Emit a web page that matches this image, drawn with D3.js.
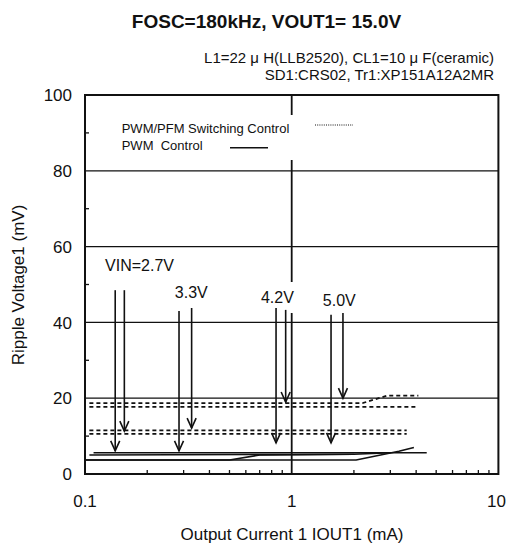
<!DOCTYPE html>
<html>
<head>
<meta charset="utf-8">
<script src="https://cdn.jsdelivr.net/npm/d3@7"></script>
<style>
  html, body { margin: 0; padding: 0; background: #fff; }
  svg { display: block; font-family: "Liberation Sans", Arial, sans-serif; }
  text { fill: #111; }
</style>
</head>
<body>
<svg id="chart" width="509" height="544"></svg>
<script>
// ---- data ----
const titleText = "FOSC=180kHz, VOUT1= 15.0V";
const subtitleLines = ["L1=22 \u03BC H(LLB2520), CL1=10 \u03BC F(ceramic)", "SD1:CRS02, Tr1:XP151A12A2MR"];
const xLabel = "Output Current 1 IOUT1 (mA)";
const yLabel = "Ripple Voltage1 (mV)";
const xTicks = [0.1, 1, 10];
const xTickLabels = ["0.1", "1", "10"];
const yTicks = [0, 20, 40, 60, 80, 100];
const yMinorTicks = [10, 30, 50, 70, 90];
const xGrid = [1];
const yGrid = [20, 40, 60, 80];

// PWM/PFM switching control (dashed), [IOUT1 mA, ripple mV]
const pfm27 = [[0.105, 10.6], [3.6, 10.6]];
const pfm33 = [[0.105, 11.5], [3.6, 11.5]];
const pfm42 = [[0.105, 17.7], [4.1, 17.7]];
const pfm50 = [[0.105, 18.7], [2.2, 18.7], [2.9, 20.7], [4.1, 20.7]];

// PWM control (solid)
const pwm27 = [[0.11, 5.6], [4.5, 5.6]];
const pwm33 = [[0.105, 5.0], [2.0, 5.2], [3.0, 5.6]];
const pwm42 = [[0.1, 3.7], [0.5, 3.7], [0.7, 5.0], [2.0, 5.2]];
const pwm50 = [[0.1, 3.7], [2.05, 3.7], [3.3, 6.0], [3.9, 7.0]];

// VIN annotations
const vinLabels = ["VIN=2.7V", "3.3V", "4.2V", "5.0V"];
const vinLabelX = [0.125, 0.272, 0.71, 1.415];
const vinLabelY = [55.1, 48.0, 46.7, 45.9];
const arrowPwmX = [0.14, 0.285, 0.84, 1.55];
const arrowPwmFrom = [48.5, 43.0, 43.8, 42.0];
const arrowPwmTo = [6.1, 6.1, 8.2, 8.2];
const arrowPfmX = [0.155, 0.328, 0.935, 1.77];
const arrowPfmFrom = [48.5, 43.8, 43.3, 42.5];
const arrowPfmTo = [11.3, 12.1, 19.0, 20.0];

const legendLabels = ["PWM/PFM Switching Control", "PWM  Control"];

// ---- layout ----
const svg = d3.select("#chart");
const L = 85, R = 498.4, T = 95, B = 474;
const x = d3.scaleLog().domain([0.1, 10]).range([L, R]);
const y = d3.scaleLinear().domain([0, 100]).range([B, T]);

// title & subtitles
svg.append("text").attr("x", 266.5).attr("y", 28).attr("text-anchor", "middle")
  .attr("font-size", 19).attr("font-weight", "bold").text(titleText);
svg.selectAll("text.sub").data(subtitleLines).join("text").attr("class", "sub")
  .attr("x", 494).attr("y", (d, i) => 62.5 + i * 17.5).attr("text-anchor", "end")
  .attr("font-size", 15).text(d => d);

// grid
svg.append("g").selectAll("line").data(yGrid).join("line")
  .attr("x1", L).attr("x2", R).attr("y1", d => y(d)).attr("y2", d => y(d))
  .attr("stroke", "#111").attr("stroke-width", 1.3);
svg.append("g").selectAll("line").data(xGrid).join("line")
  .attr("x1", d => x(d)).attr("x2", d => x(d)).attr("y1", T).attr("y2", B)
  .attr("stroke", "#111").attr("stroke-width", 1.8);

// minor ticks
const xMinor = [];
[0.1, 1].forEach(dec => { for (let k = 2; k <= 9; k++) xMinor.push(dec * k); });
svg.append("g").selectAll("line").data(xMinor).join("line")
  .attr("x1", d => x(d)).attr("x2", d => x(d)).attr("y1", B).attr("y2", B - 4)
  .attr("stroke", "#111").attr("stroke-width", 1.3);
svg.append("g").selectAll("line").data(yMinorTicks).join("line")
  .attr("x1", L).attr("x2", L + 4).attr("y1", d => y(d)).attr("y2", d => y(d))
  .attr("stroke", "#111").attr("stroke-width", 1.3);

// legend box (white, hides grid)
const lg = svg.append("g");
lg.append("rect").attr("x", 100).attr("y", 115).attr("width", 270).attr("height", 45).attr("fill", "#fff");
lg.append("text").attr("x", 121.7).attr("y", 132.5).attr("font-size", 13).text(legendLabels[0]);
lg.append("text").attr("x", 121.7).attr("y", 149.5).attr("font-size", 13).style("white-space", "pre").text(legendLabels[1]);
lg.append("line").attr("x1", 315).attr("x2", 353).attr("y1", 125).attr("y2", 125)
  .attr("stroke", "#111").attr("stroke-width", 1).attr("stroke-dasharray", "1,1.2");
lg.append("line").attr("x1", 230).attr("x2", 268).attr("y1", 147.7).attr("y2", 147.7)
  .attr("stroke", "#111").attr("stroke-width", 1.6);

// data lines
const line = d3.line().x(d => x(d[0])).y(d => y(d[1]));
const gData = svg.append("g").attr("fill", "none");
[pfm27, pfm33, pfm42, pfm50].forEach(s => gData.append("path").attr("d", line(s))
  .attr("stroke", "#111").attr("stroke-width", 1.8).attr("stroke-dasharray", "4,3"));
[pwm27, pwm33, pwm42, pwm50].forEach(s => gData.append("path").attr("d", line(s))
  .attr("stroke", "#111").attr("stroke-width", 1.6));

// VIN labels (with white boxes)
const gLab = svg.append("g");
vinLabels.forEach((t, i) => {
  const tx = x(vinLabelX[i]), ty = y(vinLabelY[i]);
  if (i === 2) {
    gLab.append("rect").attr("x", tx - 3).attr("y", 282).attr("width", 40).attr("height", 31).attr("fill", "#fff");
  }
  gLab.append("text").attr("x", tx).attr("y", ty).attr("dy", "0.36em").attr("font-size", 16).text(t);
});

// arrows
const gArr = svg.append("g").attr("stroke", "#111").attr("stroke-width", 1.6).attr("fill", "none");
function arrow(xv, from, to) {
  const ax = x(xv), y0 = y(from), y1 = y(to);
  gArr.append("line").attr("x1", ax).attr("x2", ax).attr("y1", y0).attr("y2", y1);
  gArr.append("path").attr("d", `M${ax - 4.5},${y1 - 10}L${ax},${y1}L${ax + 4.5},${y1 - 10}`);
}
arrowPwmX.forEach((v, i) => arrow(v, arrowPwmFrom[i], arrowPwmTo[i]));
arrowPfmX.forEach((v, i) => arrow(v, arrowPfmFrom[i], arrowPfmTo[i]));

// frame
svg.append("rect").attr("x", L).attr("y", T).attr("width", R - L).attr("height", B - T)
  .attr("fill", "none").attr("stroke", "#111").attr("stroke-width", 2);

// axis labels
svg.append("g").selectAll("text").data(yTicks).join("text")
  .attr("x", 72).attr("y", d => y(d)).attr("dy", "0.36em").attr("text-anchor", "end")
  .attr("font-size", 17).text(d => d);
svg.append("g").selectAll("text").data(xTicks).join("text")
  .attr("x", (d, i) => x(d) - (i === 2 ? 2 : 0)).attr("y", 506.7).attr("text-anchor", "middle")
  .attr("font-size", 17).text((d, i) => xTickLabels[i]);
svg.append("text").attr("x", 292).attr("y", 540).attr("text-anchor", "middle")
  .attr("font-size", 17).text(xLabel);
svg.append("text").attr("transform", "translate(24,285) rotate(-90)").attr("text-anchor", "middle")
  .attr("font-size", 17).text(yLabel);
</script>
</body>
</html>
